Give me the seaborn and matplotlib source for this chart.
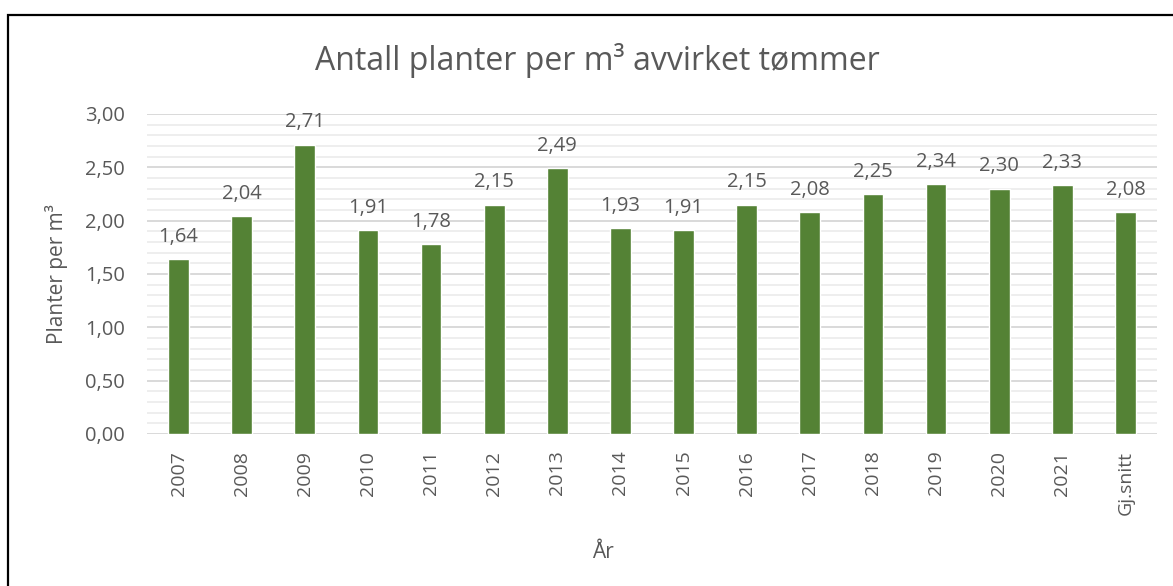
import matplotlib
matplotlib.use("Agg")
import matplotlib.pyplot as plt
import seaborn as sns
import pandas as pd
from matplotlib.patches import Rectangle
from matplotlib.ticker import MultipleLocator, FuncFormatter

categories = ["2007", "2008", "2009", "2010", "2011", "2012", "2013", "2014",
              "2015", "2016", "2017", "2018", "2019", "2020", "2021", "Gj.snitt"]
values = [1.64, 2.04, 2.71, 1.91, 1.78, 2.15, 2.49, 1.93,
          1.91, 2.15, 2.08, 2.25, 2.34, 2.30, 2.33, 2.08]
title = "Antall planter per m³ avvirket tømmer"
ylabel = "Planter per m³"
xlabel = "År"

sns.set_theme(style="white")
plt.rcParams['font.family'] = ['Open Sans', 'DejaVu Sans']
txt = "#595959"

fig = plt.figure(figsize=(11.73, 5.86), dpi=100)
ax = fig.add_axes([147/1173, 1-434/586, (1157-147)/1173, (434-114)/586])

df = pd.DataFrame({"cat": categories, "val": values})
sns.barplot(data=df, x="cat", y="val", color="#548235", width=0.33,
            saturation=1, ax=ax, zorder=3)

ax.set_ylim(0, 3.0)
ax.set_xlim(-0.5, len(categories) - 0.5)
ax.yaxis.set_major_locator(MultipleLocator(0.5))
ax.yaxis.set_minor_locator(MultipleLocator(0.1))
ax.yaxis.set_major_formatter(FuncFormatter(lambda v, p: f"{v:.2f}".replace(".", ",")))
ax.grid(which="major", axis="y", color="#d9d9d9", linewidth=1.4, zorder=0)
ax.grid(which="minor", axis="y", color="#eeeeee", linewidth=1.4, zorder=0)
ax.grid(False, axis="x")
for s in ax.spines.values():
    s.set_visible(False)
ax.tick_params(axis="both", which="both", length=0)
ax.tick_params(axis="y", labelsize=14.5, labelcolor=txt, pad=16)
ax.tick_params(axis="x", labelsize=14, labelcolor=txt, pad=12, rotation=90)

ax.bar_label(ax.containers[0], labels=[f"{v:.2f}".replace(".", ",") for v in values],
             padding=9, fontsize=14.5, color=txt)

ax.set_xlabel(xlabel, fontsize=15, color=txt, labelpad=20)
ax.xaxis.label.set_x((603 - 147) / 1010)
ax.set_ylabel(ylabel, fontsize=15, color=txt, labelpad=12)
fig.suptitle(title, fontsize=23, color=txt, x=597/1173, y=1-60/586, va="center")

fig.patches.append(Rectangle((8/1173, -0.1), 1.2, 1.1 - 15/586,
                             transform=fig.transFigure, fill=False,
                             edgecolor="black", linewidth=1.6, zorder=10))

fig.savefig("out.png", dpi=100)
